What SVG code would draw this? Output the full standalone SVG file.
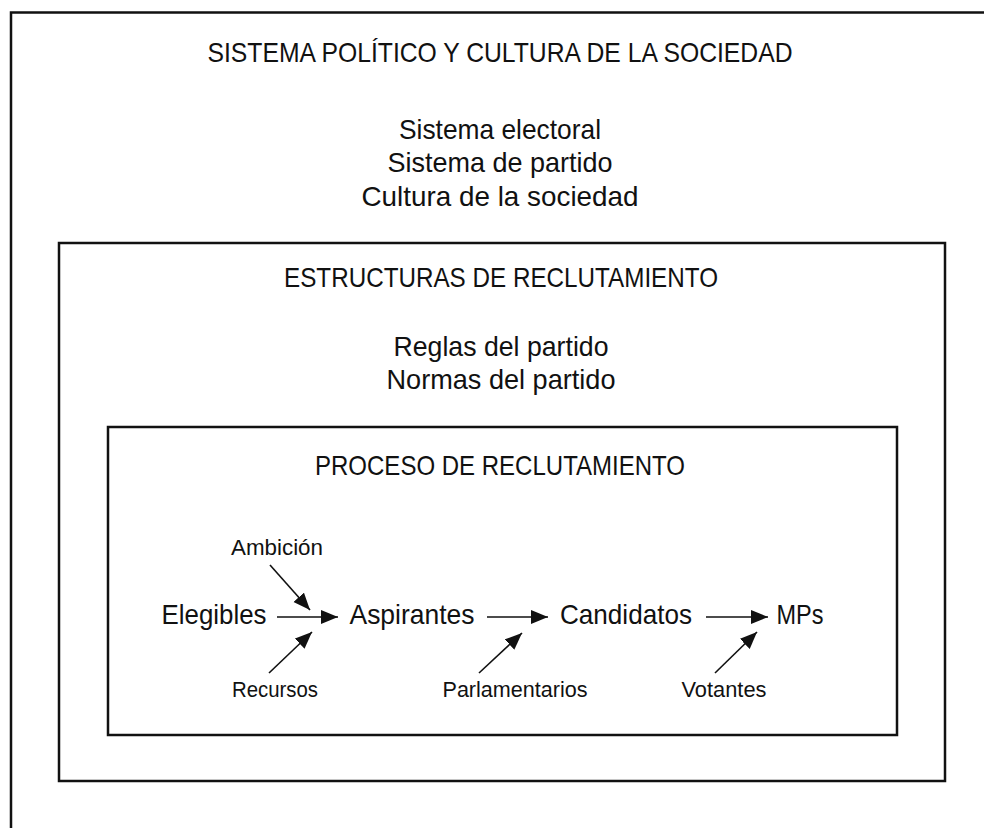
<svg xmlns="http://www.w3.org/2000/svg" width="984" height="828" viewBox="0 0 984 828">
<style>
text{font-family:"Liberation Sans",Arial,sans-serif;fill:#111;text-anchor:middle}
.t{font-size:28px}
.s{font-size:22px}
.box{fill:none;stroke:#111;stroke-width:2.5}
.ln{stroke:#111;stroke-width:1.6;fill:none}
</style>
<defs>
<marker id="ah" markerUnits="userSpaceOnUse" markerWidth="19" markerHeight="15" refX="17" refY="7" orient="auto">
<path d="M0,0 L17,7 L0,14 z" fill="#111"/>
</marker>
</defs>
<rect width="984" height="828" fill="#fff"/>
<g id="sistema">
<rect class="box" x="11" y="12.5" width="1000" height="900"/>
<text class="t" x="500" y="62" textLength="585" lengthAdjust="spacingAndGlyphs">SISTEMA POLÍTICO Y CULTURA DE LA SOCIEDAD</text>
<text class="t" x="500" y="139" textLength="202" lengthAdjust="spacingAndGlyphs">Sistema electoral</text>
<text class="t" x="500" y="172" textLength="225" lengthAdjust="spacingAndGlyphs">Sistema de partido</text>
<text class="t" x="500" y="206" textLength="277" lengthAdjust="spacingAndGlyphs">Cultura de la sociedad</text>
</g>
<g id="estructuras">
<rect class="box" x="59" y="243" width="886" height="538"/>
<text class="t" x="501" y="287" textLength="434" lengthAdjust="spacingAndGlyphs">ESTRUCTURAS DE RECLUTAMIENTO</text>
<text class="t" x="501" y="356" textLength="215" lengthAdjust="spacingAndGlyphs">Reglas del partido</text>
<text class="t" x="501" y="389" textLength="229" lengthAdjust="spacingAndGlyphs">Normas del partido</text>
</g>
<g id="proceso">
<rect class="box" x="108" y="427" width="789" height="308"/>
<text class="t" x="500" y="475" textLength="370" lengthAdjust="spacingAndGlyphs">PROCESO DE RECLUTAMIENTO</text>
</g>
<g id="elegibles"><text class="t" x="214" y="624" textLength="105" lengthAdjust="spacingAndGlyphs">Elegibles</text></g>
<g id="aspirantes"><text class="t" x="412" y="624" textLength="125" lengthAdjust="spacingAndGlyphs">Aspirantes</text></g>
<g id="candidatos"><text class="t" x="626" y="624" textLength="132" lengthAdjust="spacingAndGlyphs">Candidatos</text></g>
<g id="mps"><text class="t" x="800" y="624" textLength="47" lengthAdjust="spacingAndGlyphs">MPs</text></g>
<g id="ambicion"><text class="s" x="277" y="555" textLength="92" lengthAdjust="spacingAndGlyphs">Ambición</text></g>
<g id="recursos"><text class="s" x="275" y="697" textLength="86" lengthAdjust="spacingAndGlyphs">Recursos</text></g>
<g id="parlamentarios"><text class="s" x="515" y="697" textLength="145" lengthAdjust="spacingAndGlyphs">Parlamentarios</text></g>
<g id="votantes"><text class="s" x="724" y="697" textLength="85" lengthAdjust="spacingAndGlyphs">Votantes</text></g>
<g id="connectors">
<line class="ln" x1="277" y1="617" x2="338" y2="617" marker-end="url(#ah)"/>
<line class="ln" x1="487" y1="617" x2="548" y2="617" marker-end="url(#ah)"/>
<line class="ln" x1="706" y1="617" x2="768" y2="617" marker-end="url(#ah)"/>
<line class="ln" x1="270" y1="565" x2="310" y2="610" marker-end="url(#ah)"/>
<line class="ln" x1="269" y1="673" x2="312" y2="632" marker-end="url(#ah)"/>
<line class="ln" x1="479" y1="673" x2="522" y2="633" marker-end="url(#ah)"/>
<line class="ln" x1="715" y1="673" x2="757" y2="632" marker-end="url(#ah)"/>
</g>
</svg>
